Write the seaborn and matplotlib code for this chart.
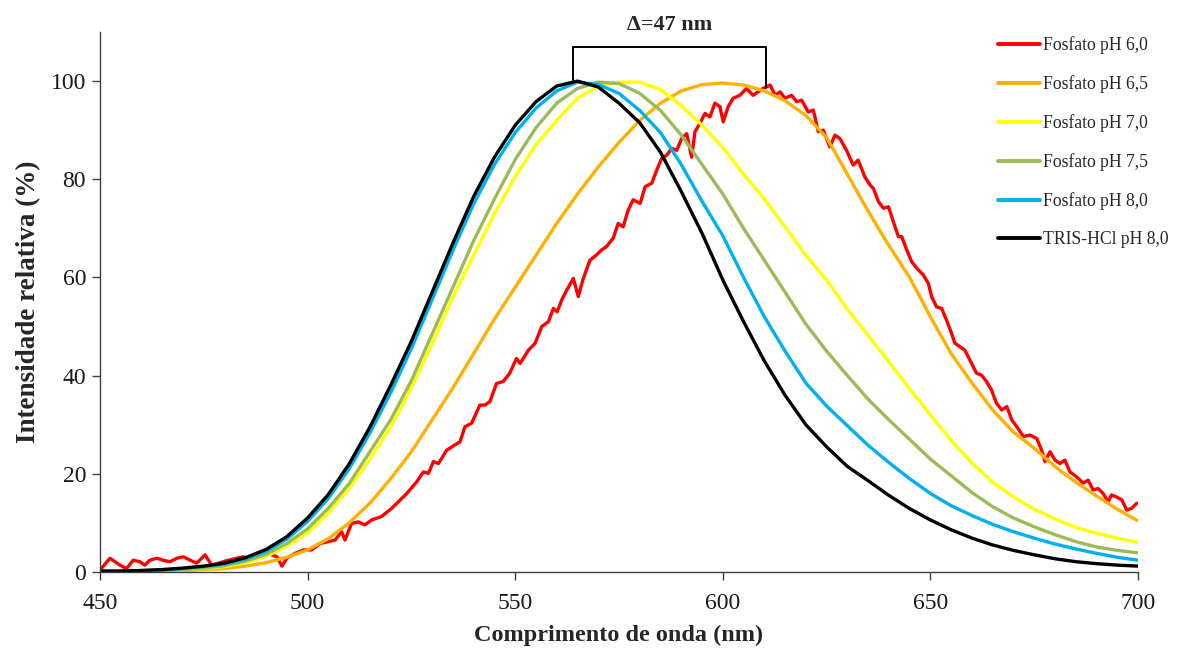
import numpy as np
import pandas as pd
import seaborn as sns
import matplotlib.pyplot as plt

# emission spectra, values (relative intensity, %)
wl = list(range(450, 701, 5))

tris_80 = [0.2, 0.2, 0.3, 0.5, 0.8, 1.2, 1.8, 2.9, 4.6, 7.2,
           11.0, 15.8, 22.0, 29.5, 38.0, 47.0, 57.0, 67.0, 76.5, 84.5,
           91.0, 95.8, 99.0, 100.0, 98.8, 95.5, 91.5, 85.5, 77.5, 69.0,
           59.5, 51.0, 43.0, 36.0, 30.0, 25.5, 21.5, 18.6, 15.6, 12.9,
           10.6, 8.6, 6.9, 5.5, 4.4, 3.5, 2.7, 2.1, 1.7, 1.4, 1.2]

fosf_80 = [0.1, 0.2, 0.3, 0.4, 0.7, 1.1, 1.6, 2.6, 4.2, 6.7,
           10.3, 15.0, 21.0, 28.3, 36.5, 45.5, 55.5, 65.5, 75.0, 83.0,
           89.5, 94.5, 98.0, 99.8, 99.3, 97.5, 94.0, 89.5, 83.0, 75.5,
           68.5, 60.0, 52.0, 45.0, 38.5, 33.8, 29.8, 25.8, 22.3, 19.0,
           16.0, 13.5, 11.5, 9.7, 8.2, 6.9, 5.7, 4.7, 3.8, 3.0, 2.4]

fosf_75 = [0.1, 0.1, 0.2, 0.3, 0.5, 0.8, 1.3, 2.2, 3.6, 5.8,
           8.8, 13.0, 18.0, 24.5, 31.0, 39.0, 48.5, 58.0, 67.5, 76.0,
           84.0, 90.5, 95.5, 98.5, 99.8, 99.5, 97.5, 94.0, 89.0, 83.0,
           77.0, 70.0, 63.5, 57.0, 50.5, 45.0, 40.0, 35.2, 31.0, 27.0,
           23.0, 19.6, 16.2, 13.3, 11.0, 9.2, 7.6, 6.2, 5.1, 4.4, 3.9]

fosf_70 = [0.1, 0.1, 0.2, 0.3, 0.4, 0.7, 1.1, 1.9, 3.2, 5.2,
           8.0, 12.0, 17.0, 23.0, 29.5, 37.5, 46.5, 56.0, 64.5, 73.0,
           80.5, 87.0, 92.0, 96.5, 99.0, 99.8, 99.8, 98.3, 95.0, 91.0,
           86.5, 81.0, 76.0, 70.3, 64.5, 59.5, 53.5, 48.2, 42.8, 37.3,
           32.0, 26.8, 22.2, 18.3, 15.3, 12.8, 10.8, 9.1, 7.9, 6.9, 6.0]

fosf_65 = [0.0, 0.0, 0.1, 0.2, 0.3, 0.5, 0.7, 1.2, 1.9, 3.0,
           4.5, 6.8, 10.0, 14.0, 19.0, 24.5, 31.0, 37.5, 44.5, 51.5,
           58.0, 64.5, 71.0, 77.0, 82.5, 87.5, 92.0, 95.5, 98.0, 99.3,
           99.6, 99.2, 98.0, 96.0, 93.0, 88.5, 81.0, 73.5, 66.5, 60.0,
           52.0, 44.5, 38.5, 33.0, 28.5, 25.2, 21.5, 18.3, 15.5, 12.8, 10.4]

# pH 6.0 is noisy, traced on a finer grid
red_nm = [450.0, 452.4, 454.8, 456.4, 458.0, 459.6, 460.8, 462.0, 463.7, 465.2,
          466.9, 468.5, 470.1, 471.7, 473.3, 475.3, 476.9, 478.9, 480.9, 482.9,
          484.5, 486.5, 488.5, 490.5, 492.6, 493.8, 495.0, 497.0, 499.0, 501.0,
          503.0, 505.0, 506.6, 508.2, 509.0, 510.6, 512.2, 513.8, 515.4, 517.8,
          520.3, 521.5, 523.9, 526.3, 527.9, 529.1, 530.3, 531.5, 533.5, 535.5,
          536.7, 537.9, 539.5, 541.5, 542.7, 543.9, 545.5, 547.1, 548.7, 550.3,
          551.2, 553.2, 554.8, 556.4, 558.0, 559.2, 560.1, 561.2, 562.4, 564.0,
          565.2, 566.4, 568.0, 569.6, 570.8, 572.0, 573.6, 574.8, 576.0, 577.2,
          578.4, 580.1, 581.3, 582.9, 584.1, 585.3, 586.5, 587.7, 588.9, 590.1,
          591.3, 592.5, 593.3, 594.5, 595.7, 596.9, 598.1, 599.3, 600.1, 601.3,
          602.5, 604.1, 605.7, 607.3, 608.5, 609.7, 611.4, 612.6, 613.8, 615.0,
          616.6, 617.8, 619.0, 620.6, 621.8, 623.0, 624.2, 625.8, 627.0, 628.2,
          629.8, 631.4, 632.6, 634.2, 635.5, 636.3, 637.5, 638.7, 639.9, 641.1,
          642.3, 643.1, 644.3, 645.5, 646.7, 648.3, 649.5, 650.3, 651.5, 652.7,
          653.9, 655.1, 655.9, 657.1, 658.3, 659.9, 661.1, 662.3, 663.5, 664.7,
          665.9, 667.2, 668.4, 669.6, 670.8, 672.4, 674.0, 675.6, 676.8, 677.6,
          678.8, 680.0, 681.2, 682.4, 683.6, 685.2, 686.8, 688.0, 689.2, 690.4,
          691.6, 692.8, 693.6, 694.8, 696.1, 697.3, 698.5, 699.7]
red_val = [0.4, 2.8, 1.4, 0.7, 2.4, 2.1, 1.4, 2.4, 2.8, 2.4,
           2.1, 2.8, 3.1, 2.4, 1.8, 3.5, 1.4, 1.9, 2.4, 2.8,
           3.1, 2.4, 3.1, 3.8, 3.1, 1.2, 2.8, 3.8, 4.5, 4.5,
           5.8, 6.2, 6.5, 8.2, 6.5, 9.9, 10.2, 9.6, 10.6, 11.3,
           13.0, 14.0, 16.0, 18.4, 20.4, 20.1, 22.5, 22.1, 24.8, 25.9,
           26.5, 29.6, 30.3, 34.0, 34.0, 34.7, 38.4, 38.8, 40.5, 43.5,
           42.5, 45.2, 46.6, 50.0, 51.0, 53.7, 53.0, 55.4, 57.4, 59.8,
           56.1, 59.8, 63.5, 64.6, 65.6, 66.3, 68.0, 71.0, 70.3, 73.7,
           75.8, 75.1, 78.5, 79.2, 81.9, 84.3, 84.9, 86.3, 85.9, 88.3,
           89.3, 84.5, 89.7, 91.4, 93.4, 92.7, 95.5, 94.8, 91.7, 94.8,
           96.5, 97.1, 98.5, 97.1, 97.8, 98.5, 99.2, 97.1, 97.8, 96.5,
           97.1, 95.8, 96.1, 93.7, 94.1, 89.7, 90.0, 86.6, 89.0, 88.3,
           85.9, 82.9, 83.9, 80.5, 78.8, 78.1, 75.4, 74.1, 74.4, 71.3,
           68.3, 68.3, 65.6, 63.2, 61.9, 60.5, 58.8, 56.1, 54.0, 53.7,
           51.3, 48.6, 46.6, 45.9, 45.2, 42.5, 40.5, 40.1, 38.8, 37.1,
           34.4, 33.0, 33.7, 31.0, 29.6, 27.6, 27.9, 27.2, 24.8, 22.5,
           24.5, 22.8, 22.1, 22.8, 20.4, 19.4, 18.1, 18.7, 16.7, 17.0,
           16.0, 14.3, 15.7, 15.3, 14.7, 12.6, 13.0, 14.0]

labels = ['Fosfato pH 6,0', 'Fosfato pH 6,5', 'Fosfato pH 7,0',
          'Fosfato pH 7,5', 'Fosfato pH 8,0', 'TRIS-HCl pH 8,0']
colors = ['#FF0000', '#FFB000', '#FFFF00', '#9BBB59', '#00B0F0', '#000000']

series = [(red_nm, red_val), (wl, fosf_65), (wl, fosf_70),
          (wl, fosf_75), (wl, fosf_80), (wl, tris_80)]

sns.set_style('ticks')
plt.rcParams['font.family'] = ['Liberation Serif', 'DejaVu Serif']

fig = plt.figure(figsize=(11.95, 6.48), dpi=100)
ax = fig.add_axes([100 / 1195, 76 / 648, 1038 / 1195, 540 / 648])

for (x, y), lab, col in zip(series, labels, colors):
    sns.lineplot(x=x, y=y, ax=ax, color=col, label=lab, linewidth=2.4,
                 estimator=None, sort=False)

ax.set_xlim(450, 700)
ax.set_ylim(0, 110)
ax.set_xticks(range(450, 701, 50))
ax.set_yticks(range(0, 101, 20))
ax.tick_params(axis='both', direction='out', length=6, width=1, colors='#404040',
               labelcolor='#1a1a1a', labelsize=17)
ax.tick_params(axis='x', pad=9)
ax.tick_params(axis='y', pad=4)
for side in ['top', 'right']:
    ax.spines[side].set_visible(False)
for side in ['left', 'bottom']:
    ax.spines[side].set_color('#404040')
    ax.spines[side].set_linewidth(1)

ax.set_xlabel('Comprimento de onda (nm)', fontsize=17.5, fontweight='bold', labelpad=8)
ax.set_ylabel('Intensidade relativa (%)', fontsize=19.5, fontweight='bold', labelpad=7)

# bracket marking the shift between the extreme maxima
x_left, x_right = 564, 610.5
ax.plot([x_left, x_left, x_right, x_right], [100.2, 106.9, 106.9, 98.6],
        color='black', linewidth=1.4, clip_on=False)
ax.text((x_left + x_right) / 2, 111.4, 'Δ=47 nm', ha='center', va='center',
        fontsize=16, fontweight='bold', clip_on=False)

leg = ax.legend(loc='upper left', bbox_to_anchor=(998 / 1195, 1 - 36 / 648),
                bbox_transform=fig.transFigure, frameon=False, fontsize=12.7,
                handlelength=2.4, handletextpad=0.15, labelspacing=1.2,
                borderpad=0, borderaxespad=0)
for line in leg.get_lines():
    line.set_linewidth(2.8)

fig.savefig('out.png', dpi=100)
